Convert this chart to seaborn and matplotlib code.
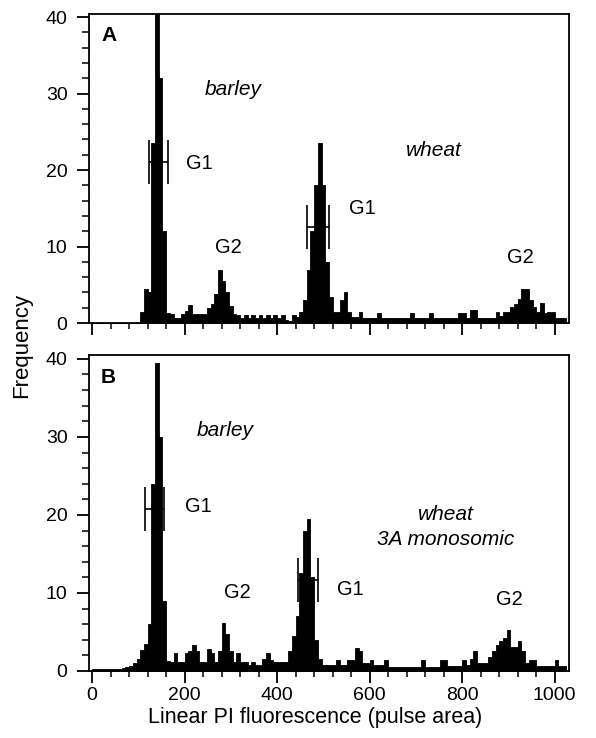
"""
Flow karyotype histograms: barley + wheat (A) and barley + wheat 3A monosomic (B)
"""

import numpy as np
import pandas as pd
import matplotlib
matplotlib.use("Agg")
import matplotlib.pyplot as plt
from matplotlib.ticker import MultipleLocator
import seaborn as sns

# bins of 8 channels, 0..1024
BIN_WIDTH = 8
bin_edges = np.arange(0, 1024 + BIN_WIDTH, BIN_WIDTH)
bin_left = bin_edges[:-1]

# panel A counts (16 bins per row)
counts_a = [
    0, 0, 0, 0, 0, 0, 0, 0, 0, 0, 0, 0, 0, 1.5, 4.5, 4,
    23.5, 42, 32, 12, 1.3, 1.2, 0.6, 0.6, 1.2, 1.6, 2.4, 1.2, 1.2, 1.2, 1.2, 1.9,
    2.5, 3.8, 6.9, 5.5, 4, 2.2, 1.2, 1.0, 0.6, 1.0, 0.6, 1.0, 0.6, 1.0, 0.6, 1.0,
    0.6, 1.0, 0.6, 1.0, 0.4, 0.3, 1.0, 0.8, 1.5, 3.0, 6.9, 12, 18, 23.5, 18, 8,
    3.4, 1.5, 1.5, 3, 4, 1.5, 0.8, 0.8, 1.5, 0.6, 0.6, 0.6, 0.6, 1.35, 0.6, 0.6,
    0.6, 0.6, 0.6, 0.6, 0.6, 0.6, 1.35, 0.6, 0.6, 0.6, 0.6, 1.35, 0.6, 0.6, 0.6, 0.6,
    0.6, 0.6, 0.6, 1.35, 1.35, 0.6, 1.7, 1.7, 0.6, 0.6, 0.6, 0.6, 0.6, 1.5, 0.9, 1.5,
    1.5, 2.1, 2.5, 3.2, 4.5, 4.5, 3, 2.1, 1.5, 2.6, 1.3, 1.5, 1.5, 0.6, 0.6, 0.6,
]

# panel B counts
counts_b = [
    0.3, 0.3, 0.3, 0.3, 0.3, 0.3, 0.3, 0.3, 0.4, 0.5, 0.7, 1.0, 1.6, 2.7, 3.5, 6,
    24, 39.5, 30, 9, 1.3, 1.2, 2.3, 1.2, 1.2, 2.3, 2.5, 3.3, 2.5, 1.2, 1.2, 2.8,
    2.3, 1.2, 2.5, 6.1, 4.8, 2.5, 1.2, 2.3, 1.2, 1.2, 0.8, 1.2, 0.8, 0.8, 1.6, 2.3,
    1.4, 1.2, 1.2, 1.2, 1.2, 2.5, 4.5, 7, 12.5, 18, 19.5, 12, 4, 1.5, 0.8, 0.8,
    0.8, 0.8, 1.4, 0.8, 0.8, 1.4, 1.4, 3, 2.5, 1, 1, 1.4, 0.8, 0.8, 0.8, 1.4,
    0.5, 0.5, 0.5, 0.5, 0.5, 0.5, 0.5, 0.5, 0.5, 1.4, 0.5, 0.5, 0.5, 0.5, 1.4, 1.4,
    0.6, 0.6, 0.6, 0.6, 1.4, 0.8, 1.6, 2.6, 1.0, 1.0, 1.0, 1.8, 2.6, 3.3, 3.8, 4.2,
    5.3, 3.1, 3.1, 3.8, 2.5, 1, 1.4, 1.4, 0.6, 0.6, 0.6, 0.6, 0.6, 1.4, 0.6, 0.6,
]

# G1 gates: centre, half width, height
gates_a = [(143.5, 21.5, 21.0), (489, 24, 12.6)]
gates_b = [(135.5, 20.5, 20.7), (466.5, 21.5, 11.6)]

# labels: text, x, y, italic
labels_a = [("barley", 306, 30.5, True), ("G1", 232, 20.9, False),
            ("G2", 295, 9.9, False), ("wheat", 739, 22.6, True),
            ("G1", 584, 15.0, False), ("G2", 925, 8.6, False)]
labels_b = [("barley", 287, 30.8, True), ("G1", 229, 21.1, False),
            ("G2", 315, 10.0, False), ("wheat", 765, 20.1, True),
            ("3A monosomic", 765, 16.8, True), ("G1", 559, 10.4, False),
            ("G2", 903, 9.1, False)]

sns.set_style("ticks")
plt.rcParams["font.family"] = ["Liberation Sans", "DejaVu Sans"]
plt.rcParams["text.color"] = "black"
plt.rcParams["xtick.color"] = "black"
plt.rcParams["ytick.color"] = "black"
plt.rcParams["axes.labelcolor"] = "black"

fig = plt.figure(figsize=(5.96, 7.38), dpi=100)
ax_a = fig.add_axes([0.1495, 0.5623, 0.8053, 0.4187])
ax_b = fig.add_axes([0.1495, 0.0908, 0.8053, 0.4282])


def draw_panel(ax, counts, gates, labels, letter, ytop):
    df = pd.DataFrame({"channel": bin_left + BIN_WIDTH / 2, "count": counts})
    sns.histplot(data=df, x="channel", weights="count", bins=list(bin_edges),
                 element="step", fill=True, color="black", alpha=1,
                 linewidth=0.6, ax=ax)
    for cx, hw, gy in gates:
        ax.errorbar(cx, gy, xerr=hw, color="black", lw=1.2, capsize=16,
                    capthick=1.2, fmt="none")
    for txt, x, y, it in labels:
        ax.text(x, y, txt, ha="center", va="center",
                fontsize=15 if it else 14.5,
                style="italic" if it else "normal")
    ax.text(0.025, 0.93, letter, transform=ax.transAxes, ha="left", va="center",
            fontsize=15, fontweight="bold")

    ax.set_xlim(-6.5, 1031)
    ax.set_ylim(0, ytop)
    ax.xaxis.set_major_locator(MultipleLocator(200))
    ax.xaxis.set_minor_locator(MultipleLocator(40))
    ax.yaxis.set_major_locator(MultipleLocator(10))
    ax.yaxis.set_minor_locator(MultipleLocator(2))
    ax.tick_params(axis="x", which="major", direction="out", length=8.5, width=1.3,
                   labelsize=14, pad=3)
    ax.tick_params(axis="x", which="minor", direction="out", length=4.5, width=1.1)
    ax.tick_params(axis="y", which="major", direction="out", length=8.5, width=1.3,
                   labelsize=14, pad=7)
    ax.tick_params(axis="y", which="minor", direction="out", length=5, width=1.1)
    for sp in ax.spines.values():
        sp.set_visible(True)
        sp.set_linewidth(1.3)
        sp.set_color("black")
    ax.set_xlabel("")
    ax.set_ylabel("")


draw_panel(ax_a, counts_a, gates_a, labels_a, "A", 40.4)
draw_panel(ax_b, counts_b, gates_b, labels_b, "B", 40.5)
ax_a.tick_params(axis="x", labelbottom=False)

fig.text(22 / 596, 1 - 345 / 738, "Frequency", rotation=90, ha="center",
         va="center", fontsize=16)
fig.text(315 / 596, 1 - 718 / 738, "Linear PI fluorescence (pulse area)",
         ha="center", va="center", fontsize=15.5)

fig.savefig("out.png", dpi=100)
plt.close(fig)
